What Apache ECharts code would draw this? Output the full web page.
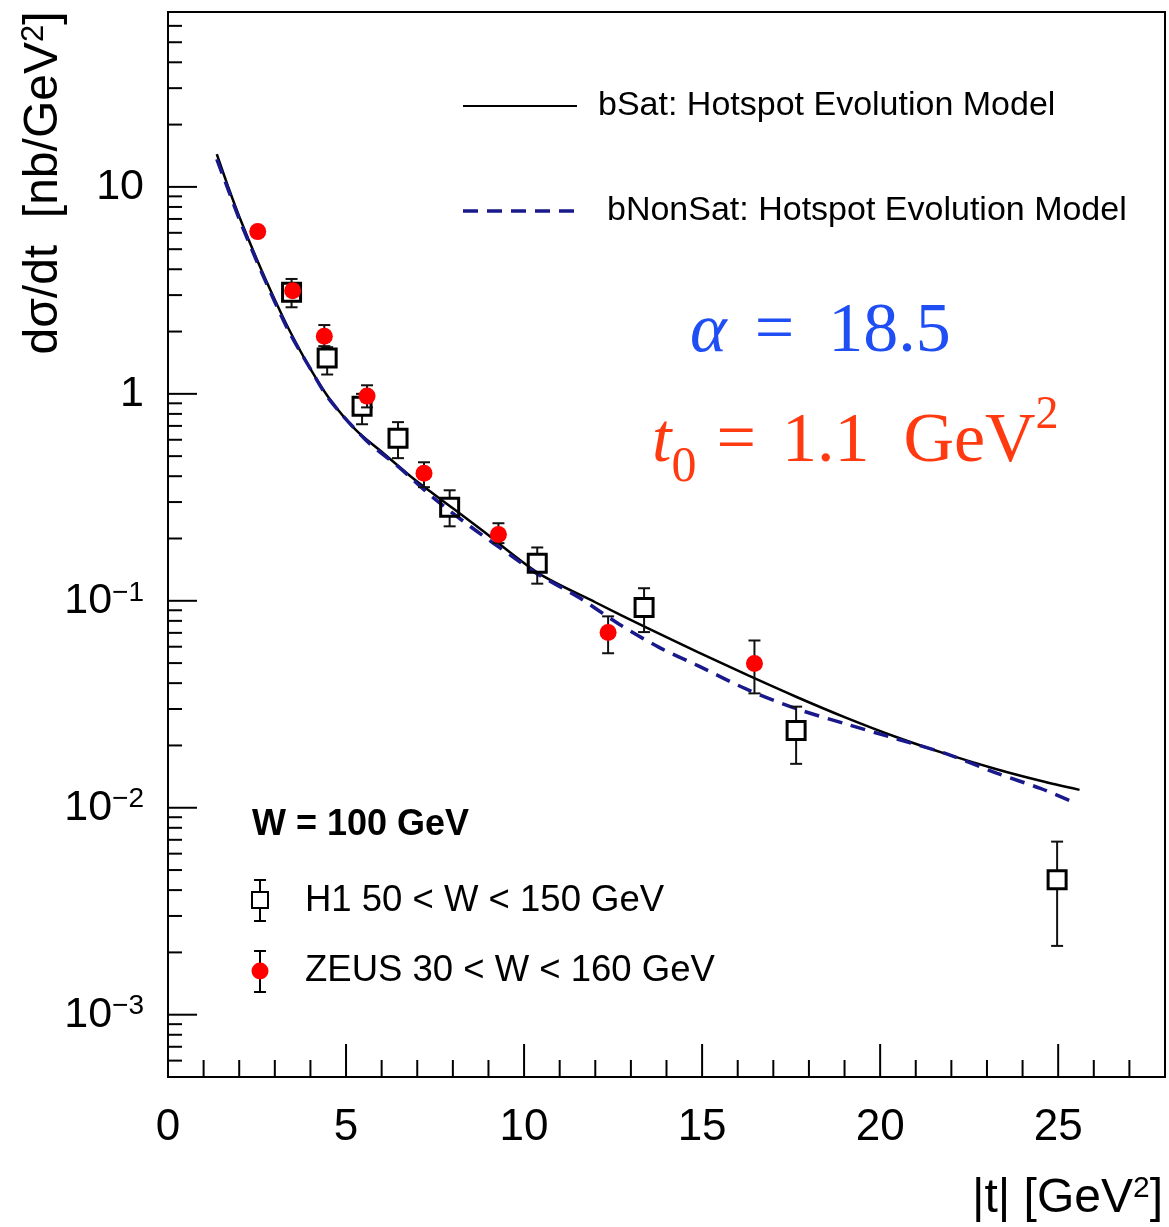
<!DOCTYPE html>
<html>
<head>
<meta charset="utf-8">
<style>
html, body { margin: 0; padding: 0; background: #fff; }
#chart { width: 1169px; height: 1227px; }
</style>
<script src="https://cdn.jsdelivr.net/npm/echarts@6/dist/echarts.min.js"></script>
</head>
<body>
<div id="chart"></div>
<script>
const SANS = '"Liberation Sans", Helvetica, Arial, sans-serif';
const SERIF = '"Liberation Serif", "Times New Roman", serif';

// axis ranges
const X_MIN = 0;
const X_MAX = 28;
const Y_MIN = 0.0005;
const Y_MAX = 70;

// model curves: |t| [GeV^2] -> dsigma/dt [nb/GeV^2]
const bSatT = [1.37, 1.7, 2.0, 2.5, 3.0, 3.41, 4.0, 4.53, 5.28, 6.0, 6.95, 8.0, 8.82, 10.4, 12.0, 13.44, 14.88, 16.28, 17.67, 19.07, 20.47, 21.87, 23.27, 24.5, 25.6];
const bSatXs = [14.4, 9.9, 7.2, 4.45, 2.85, 2.03, 1.32, 0.95, 0.667, 0.525, 0.382, 0.28, 0.219, 0.136, 0.0984, 0.0742, 0.0565, 0.0437, 0.0342, 0.0271, 0.0219, 0.01815, 0.01535, 0.0135, 0.0122];

const bNonSatT = [1.37, 1.7, 2.0, 2.5, 3.0, 3.41, 4.0, 4.53, 5.56, 6.5, 7.42, 8.5, 9.75, 10.4, 11.53, 12.65, 13.78, 14.88, 16.28, 17.67, 19.07, 20.47, 21.87, 23.27, 24.5, 25.45];
const bNonSatXs = [13.6, 9.6, 7.0, 4.35, 2.78, 1.98, 1.32, 0.94, 0.597, 0.44, 0.318, 0.228, 0.160, 0.134, 0.104, 0.0775, 0.0597, 0.0486, 0.0372, 0.0300, 0.0253, 0.0215, 0.0182, 0.0147, 0.0124, 0.0106];

// H1 data, 50 < W < 150 GeV
const h1T = [3.47, 4.47, 5.45, 6.46, 7.91, 10.37, 13.37, 17.64, 24.97];
const h1Xs = [3.1, 1.49, 0.872, 0.611, 0.283, 0.152, 0.0929, 0.0236, 0.00449];
const h1Lo = [2.62, 1.24, 0.713, 0.489, 0.229, 0.121, 0.0706, 0.0163, 0.00215];
const h1Hi = [3.59, 1.68, 1.0, 0.730, 0.342, 0.181, 0.115, 0.0308, 0.00686];

// ZEUS data, 30 < W < 160 GeV
const zeusT = [2.52, 3.50, 4.39, 5.59, 7.19, 9.28, 12.36, 16.47];
const zeusXs = [6.08, 3.15, 1.90, 0.975, 0.413, 0.209, 0.0703, 0.0498];
const zeusLo = [5.85, 3.0, 1.70, 0.86, 0.354, 0.19, 0.0558, 0.0357];
const zeusHi = [6.35, 3.3, 2.15, 1.10, 0.467, 0.237, 0.0841, 0.0643];

// tick marks
const xMajorTicks = [5, 10, 15, 20, 25];
const xMinorTicks = [1, 2, 3, 4, 6, 7, 8, 9, 11, 12, 13, 14, 16, 17, 18, 19, 21, 22, 23, 24, 26, 27];
const yMajorTicks = [0.001, 0.01, 0.1, 1, 10];
const yMinorTicks = [
    0.0006, 0.0007, 0.0008, 0.0009,
    0.002, 0.003, 0.004, 0.005, 0.006, 0.007, 0.008, 0.009,
    0.02, 0.03, 0.04, 0.05, 0.06, 0.07, 0.08, 0.09,
    0.2, 0.3, 0.4, 0.5, 0.6, 0.7, 0.8, 0.9,
    2, 3, 4, 5, 6, 7, 8, 9,
    20, 30, 40, 50, 60
];

// kind: 0 x minor, 1 x major, 2 y minor, 3 y major
const tickLength = [17, 33, 14, 29];

const zip = (...cols) => cols[0].map((_, i) => cols.map(c => c[i]));

const tickData = [
    ...xMinorTicks.map(v => [v, Y_MIN, 0]),
    ...xMajorTicks.map(v => [v, Y_MIN, 1]),
    ...yMinorTicks.map(v => [X_MIN, v, 2]),
    ...yMajorTicks.map(v => [X_MIN, v, 3])
];

const renderTick = (params, api) => {
    const kind = api.value(2);
    const p = api.coord([api.value(0), api.value(1)]);
    const len = tickLength[kind];
    const shape = kind >= 2
        ? {x1: p[0], y1: p[1], x2: p[0] + len, y2: p[1]}
        : {x1: p[0], y1: p[1], x2: p[0], y2: p[1] - len};
    return {
        type: 'line',
        shape,
        style: {stroke: '#000', lineWidth: 2}
    };
};

// vertical error bar, leaving a gap round the marker
const errorBar = gap => (params, api) => {
    const t = api.value(0);
    const c = api.coord([t, api.value(1)]);
    const lo = api.coord([t, api.value(2)]);
    const hi = api.coord([t, api.value(3)]);
    const cap = 6;
    const style = {stroke: '#111', lineWidth: 2};
    const children = [];
    if (hi[1] < c[1] - gap) {
        children.push({type: 'line', shape: {x1: c[0], y1: hi[1], x2: c[0], y2: c[1] - gap}, style});
    }
    if (lo[1] > c[1] + gap) {
        children.push({type: 'line', shape: {x1: c[0], y1: c[1] + gap, x2: c[0], y2: lo[1]}, style});
    }
    children.push({type: 'line', shape: {x1: c[0] - cap, y1: hi[1], x2: c[0] + cap, y2: hi[1]}, style});
    children.push({type: 'line', shape: {x1: c[0] - cap, y1: lo[1], x2: c[0] + cap, y2: lo[1]}, style});
    return {type: 'group', children};
};

const powerLabel = value => {
    const e = Math.log10(value);
    const n = Math.round(e);
    if (Math.abs(e - n) > 1e-6) {
        return '';
    }
    if (n === 0) {
        return '1';
    }
    if (n === 1) {
        return '10';
    }
    return '10{sup|' + (n < 0 ? '\u2212' + (-n) : n) + '}';
};

const navy = '#19198c';
const blue = '#1f4ef5';
const red = '#ff3a10';

const chart = echarts.init(document.getElementById('chart'));

chart.setOption({
    animation: false,
    backgroundColor: '#fff',
    grid: {
        left: 168,
        right: 4,
        top: 12,
        bottom: 150,
        show: true,
        borderColor: '#000',
        borderWidth: 2,
        backgroundColor: 'transparent'
    },
    xAxis: {
        type: 'value',
        min: X_MIN,
        max: X_MAX,
        interval: 5,
        axisLine: {show: true, lineStyle: {color: '#000', width: 2}},
        axisTick: {show: false},
        splitLine: {show: false},
        axisLabel: {
            margin: 29,
            color: '#000',
            fontFamily: SANS,
            fontSize: 44,
            lineHeight: 44,
            showMaxLabel: false
        }
    },
    yAxis: {
        type: 'log',
        logBase: 10,
        min: Y_MIN,
        max: Y_MAX,
        axisLine: {show: true, lineStyle: {color: '#000', width: 2}},
        axisTick: {show: false},
        splitLine: {show: false},
        axisLabel: {
            margin: 24,
            color: '#000',
            fontFamily: SANS,
            fontSize: 43,
            lineHeight: 44,
            showMinLabel: false,
            showMaxLabel: false,
            formatter: powerLabel,
            rich: {
                sup: {fontFamily: SANS, fontSize: 28, lineHeight: 28, verticalAlign: 'top', color: '#000'}
            }
        }
    },
    series: [
        {
            name: 'ticks',
            type: 'custom',
            silent: true,
            dimensions: ['x', 'y', 'kind'],
            encode: {x: 0, y: 1},
            renderItem: renderTick,
            data: tickData,
            z: 10
        },
        {
            name: 'bSat: Hotspot Evolution Model',
            type: 'line',
            data: zip(bSatT, bSatXs),
            smooth: 0.3,
            showSymbol: false,
            lineStyle: {color: '#000', width: 2.5},
            z: 2
        },
        {
            name: 'bNonSat: Hotspot Evolution Model',
            type: 'line',
            data: zip(bNonSatT, bNonSatXs),
            smooth: 0.3,
            showSymbol: false,
            lineStyle: {color: navy, width: 3.5, type: [15, 9]},
            z: 3
        },
        {
            name: 'H1 errors',
            type: 'custom',
            silent: true,
            encode: {x: 0, y: 1},
            renderItem: errorBar(9),
            data: zip(h1T, h1Xs, h1Lo, h1Hi),
            z: 4
        },
        {
            name: 'H1 50 < W < 150 GeV',
            type: 'scatter',
            data: zip(h1T, h1Xs),
            symbol: 'rect',
            symbolSize: 18,
            itemStyle: {color: 'rgba(255,255,255,0)', borderColor: '#000', borderWidth: 3, opacity: 1},
            z: 5
        },
        {
            name: 'ZEUS errors',
            type: 'custom',
            silent: true,
            encode: {x: 0, y: 1},
            renderItem: errorBar(0),
            data: zip(zeusT, zeusXs, zeusLo, zeusHi),
            z: 6
        },
        {
            name: 'ZEUS 30 < W < 160 GeV',
            type: 'scatter',
            data: zip(zeusT, zeusXs),
            symbol: 'circle',
            symbolSize: 17,
            itemStyle: {color: '#ff0000', opacity: 1},
            z: 7
        }
    ],
    graphic: [
        // axis titles
        {
            type: 'text',
            x: 44,
            y: 183,
            rotation: Math.PI / 2,
            style: {
                text: 'd\u03c3/dt  [nb/GeV{s|2}]',
                fontFamily: SANS,
                fontSize: 48,
                lineHeight: 50,
                fill: '#000',
                align: 'center',
                verticalAlign: 'middle',
                rich: {s: {fontFamily: SANS, fontSize: 31, lineHeight: 31, verticalAlign: 'top', fill: '#000'}}
            }
        },
        {
            type: 'text',
            x: 1163,
            y: 1199,
            style: {
                text: '|t| [GeV{s|2}]',
                fontFamily: SANS,
                fontSize: 48,
                lineHeight: 50,
                fill: '#000',
                align: 'right',
                verticalAlign: 'middle',
                rich: {s: {fontFamily: SANS, fontSize: 30, lineHeight: 30, verticalAlign: 'top', fill: '#000'}}
            }
        },
        // model legend
        {type: 'line', shape: {x1: 463, y1: 106, x2: 577, y2: 106}, style: {stroke: '#000', lineWidth: 2}},
        {
            type: 'text', x: 598, y: 106,
            style: {text: 'bSat: Hotspot Evolution Model', fontFamily: SANS, fontSize: 34, fill: '#000', verticalAlign: 'middle'}
        },
        {type: 'line', shape: {x1: 463, y1: 211, x2: 577, y2: 211}, style: {stroke: navy, lineWidth: 3.5, lineDash: [15, 9]}},
        {
            type: 'text', x: 607, y: 211,
            style: {text: 'bNonSat: Hotspot Evolution Model', fontFamily: SANS, fontSize: 34, fill: '#000', verticalAlign: 'middle'}
        },
        // parameters
        {
            type: 'text', x: 690, y: 333,
            style: {
                text: '{a|\u03b1}{eq|=}18.5',
                fontFamily: SERIF,
                fontSize: 70,
                fill: blue,
                verticalAlign: 'middle',
                rich: {
                    a: {fontFamily: SERIF, fontSize: 70, fontStyle: 'italic', fill: blue},
                    eq: {fontFamily: SERIF, fontSize: 70, fill: blue, padding: [0, 34, 0, 28]}
                }
            }
        },
        {
            type: 'text', x: 652, y: 443,
            style: {
                text: '{t|t}{sub|0}{eq|=}1.1{g|GeV}{sup|2}',
                fontFamily: SERIF,
                fontSize: 70,
                lineHeight: 100,
                fill: red,
                verticalAlign: 'middle',
                rich: {
                    t: {fontFamily: SERIF, fontSize: 70, lineHeight: 100, fontStyle: 'italic', fill: red},
                    sub: {fontFamily: SERIF, fontSize: 50, lineHeight: 50, verticalAlign: 'bottom', fill: red},
                    eq: {fontFamily: SERIF, fontSize: 70, lineHeight: 100, fill: red, padding: [0, 26, 0, 20]},
                    g: {fontFamily: SERIF, fontSize: 70, lineHeight: 100, fill: red, padding: [0, 0, 0, 34]},
                    sup: {fontFamily: SERIF, fontSize: 46, lineHeight: 48, verticalAlign: 'top', fill: red}
                }
            }
        },
        // data legend
        {
            type: 'text', x: 252, y: 825,
            style: {text: 'W = 100 GeV', fontFamily: SANS, fontSize: 36, fontWeight: 'bold', fill: '#000', verticalAlign: 'middle'}
        },
        {type: 'rect', shape: {x: 252, y: 892, width: 16, height: 16}, style: {fill: 'none', stroke: '#000', lineWidth: 2}},
        {type: 'line', shape: {x1: 260, y1: 880, x2: 260, y2: 892}, style: {stroke: '#000', lineWidth: 2}},
        {type: 'line', shape: {x1: 260, y1: 908, x2: 260, y2: 921}, style: {stroke: '#000', lineWidth: 2}},
        {type: 'line', shape: {x1: 254, y1: 880, x2: 266, y2: 880}, style: {stroke: '#000', lineWidth: 2}},
        {type: 'line', shape: {x1: 254, y1: 921, x2: 266, y2: 921}, style: {stroke: '#000', lineWidth: 2}},
        {
            type: 'text', x: 305, y: 901,
            style: {text: 'H1 50 < W < 150 GeV', fontFamily: SANS, fontSize: 36.5, fill: '#000', verticalAlign: 'middle'}
        },
        {type: 'line', shape: {x1: 260, y1: 951, x2: 260, y2: 992}, style: {stroke: '#000', lineWidth: 2}},
        {type: 'line', shape: {x1: 254, y1: 951, x2: 266, y2: 951}, style: {stroke: '#000', lineWidth: 2}},
        {type: 'line', shape: {x1: 254, y1: 992, x2: 266, y2: 992}, style: {stroke: '#000', lineWidth: 2}},
        {type: 'circle', shape: {cx: 260, cy: 971, r: 8.5}, style: {fill: '#ff0000'}},
        {
            type: 'text', x: 305, y: 971,
            style: {text: 'ZEUS 30 < W < 160 GeV', fontFamily: SANS, fontSize: 36.5, fill: '#000', verticalAlign: 'middle'}
        }
    ]
});
</script>
</body>
</html>
